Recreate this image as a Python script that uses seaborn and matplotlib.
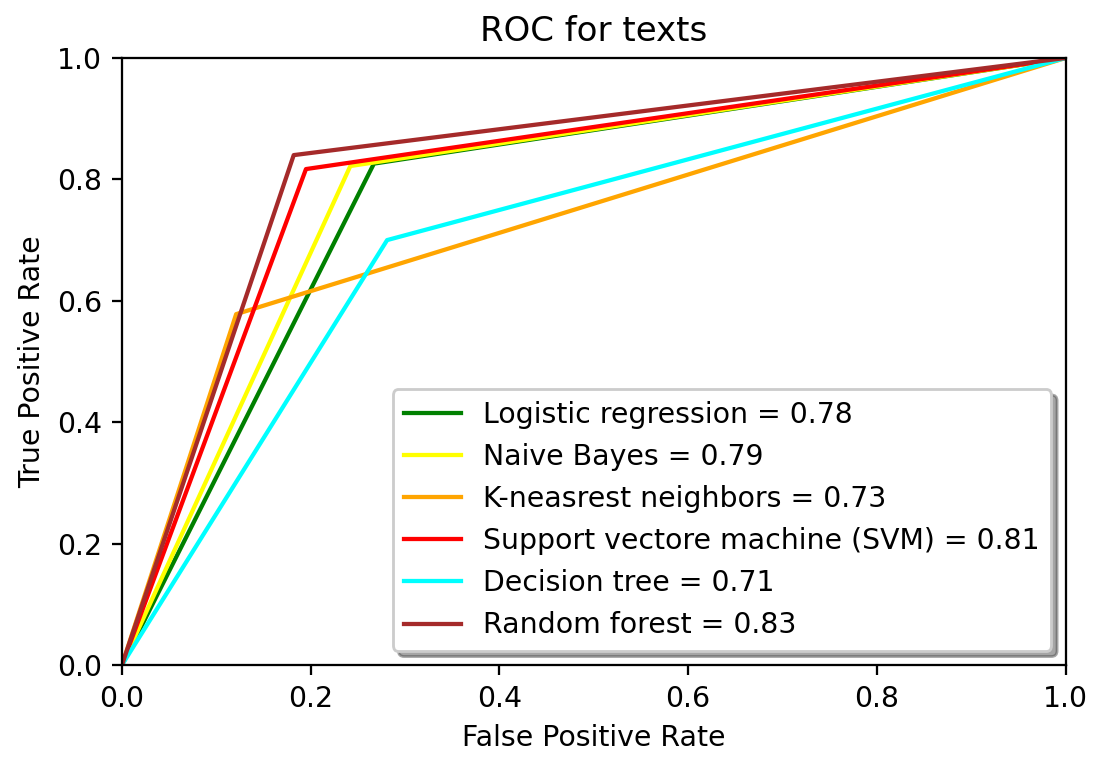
import matplotlib
matplotlib.use("Agg")
import matplotlib.pyplot as plt
import seaborn as sns

models = ["Logistic regression", "Naive Bayes", "K-neasrest neighbors",
          "Support vectore machine (SVM)", "Decision tree", "Random forest"]
colors = ["green", "yellow", "orange", "red", "cyan", "brown"]
auc = [0.78, 0.79, 0.73, 0.81, 0.71, 0.83]
# roc curve points (0,0) -> knee -> (1,1)
fpr = [[0, 0.267, 1], [0, 0.242, 1], [0, 0.121, 1],
       [0, 0.195, 1], [0, 0.281, 1], [0, 0.182, 1]]
tpr = [[0, 0.826, 1], [0, 0.822, 1], [0, 0.578, 1],
       [0, 0.817, 1], [0, 0.700, 1], [0, 0.840, 1]]

DPI = 204
fig = plt.figure(figsize=(1094 / DPI, 758 / DPI), dpi=DPI)
ax = fig.add_subplot(111)
fig.subplots_adjust(left=0.1115, right=0.974, top=0.9235, bottom=0.1227)

for name, c, a, x, y in zip(models, colors, auc, fpr, tpr):
    sns.lineplot(x=x, y=y, color=c, label=f"{name} = {a}", ax=ax, sort=False)

ax.set_xlim(0, 1)
ax.set_ylim(0, 1)
ax.set_title("ROC for texts")
ax.set_xlabel("False Positive Rate")
ax.set_ylabel("True Positive Rate")
ax.legend(loc="lower right", shadow=True)
plt.savefig("out.png", dpi=DPI)
